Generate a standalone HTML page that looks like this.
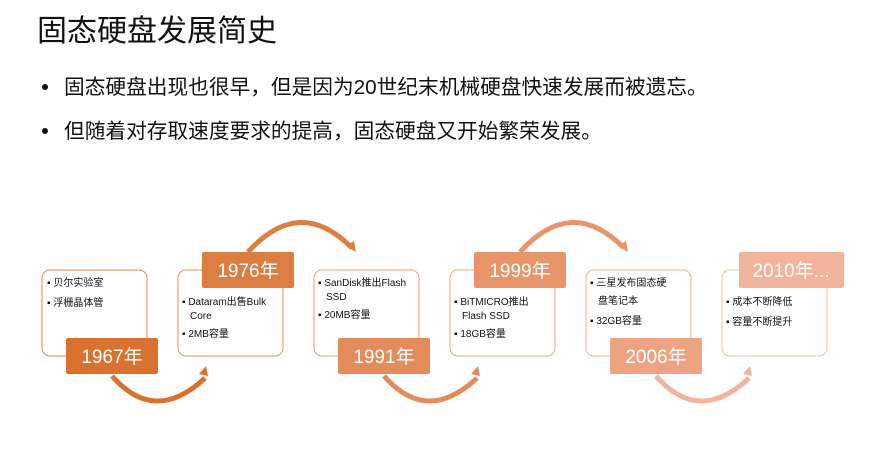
<!DOCTYPE html>
<html><head><meta charset="utf-8"><style>
body{margin:0;width:888px;height:444px;background:#fff;overflow:hidden;font-family:"Liberation Sans","Noto Sans CJK SC",sans-serif;}
</style></head><body>
<svg width="888" height="444" viewBox="0 0 888 444" xmlns="http://www.w3.org/2000/svg" font-family="Liberation Sans, Noto Sans CJK SC, sans-serif">
<text x="37" y="41" font-size="30" fill="#111">固态硬盘发展简史</text>
<circle cx="45" cy="87" r="3" fill="#111"/>
<text x="64" y="94" font-size="20.7" fill="#111">固态硬盘出现也很早，但是因为20世纪末机械硬盘快速发展而被遗忘。</text>
<circle cx="45" cy="131" r="3" fill="#111"/>
<text x="64" y="138" font-size="20.7" fill="#111">但随着对存取速度要求的提高，固态硬盘又开始繁荣发展。</text>

<defs>
<marker id="a1" markerWidth="4" markerHeight="4" refX="2" refY="2" orient="auto" markerUnits="strokeWidth"><path d="M0,0 L4,2 L0,4z" fill="context-stroke"/></marker>
</defs>
<g fill="none" stroke-width="5">
<path d="M112,376 Q155,425 205,378" stroke="#d9722f"/>
<path d="M199,374 L208,376 L206,366z" fill="#d9722f" stroke="none"/>
<path d="M248,252 Q300,195 352,248" stroke="#dc7d42"/>
<path d="M346,246 L356,252 L354,241z" fill="#dc7d42" stroke="none"/>
<path d="M384,376 Q427,425 477,378" stroke="#e38b5a"/>
<path d="M471,374 L480,376 L478,366z" fill="#e38b5a" stroke="none"/>
<path d="M520,252 Q572,195 624,248" stroke="#e8956b"/>
<path d="M618,246 L628,252 L626,241z" fill="#e8956b" stroke="none"/>
<path d="M656,376 Q699,425 749,378" stroke="#f2b49a"/>
<path d="M743,374 L752,376 L750,366z" fill="#f2b49a" stroke="none"/>
</g>

<g fill="#fff" stroke-width="1">
<rect x="42" y="270" width="105" height="86" rx="8" stroke="#e08a50"/>
<rect x="178" y="270" width="105" height="86" rx="8" stroke="#e39060"/>
<rect x="314" y="270" width="105" height="86" rx="8" stroke="#e9a07a"/>
<rect x="450" y="270" width="105" height="86" rx="8" stroke="#eca684"/>
<rect x="586" y="270" width="105" height="86" rx="8" stroke="#f0b094"/>
<rect x="722" y="270" width="105" height="86" rx="8" stroke="#f4bfa8"/>
</g>
<g>
<rect x="66" y="338" width="92" height="36" rx="2" fill="#d9722f"/>
<rect x="202" y="252" width="92" height="36" rx="2" fill="#dc7d42"/>
<rect x="338" y="338" width="92" height="36" rx="2" fill="#e38b5a"/>
<rect x="474" y="252" width="92" height="36" rx="2" fill="#e8956b"/>
<rect x="610" y="338" width="92" height="36" rx="2" fill="#eda381"/>
<rect x="739" y="252" width="105" height="36" rx="2" fill="#f2b49a"/>
</g>
<g font-size="19" fill="#fff" text-anchor="middle">
<text x="112" y="363">1967年</text>
<text x="248" y="277">1976年</text>
<text x="384" y="363">1991年</text>
<text x="520" y="277">1999年</text>
<text x="656" y="363">2006年</text>
<text x="791" y="277">2010年...</text>
</g>
<g font-size="10" fill="#111">
<text x="47" y="286">▪ 贝尔实验室</text>
<text x="47" y="306">▪ 浮栅晶体管</text>
<text x="182" y="305">▪ Dataram出售Bulk</text>
<text x="190" y="319">Core</text>
<text x="182" y="337">▪ 2MB容量</text>
<text x="318" y="286">▪ SanDisk推出Flash</text>
<text x="326" y="300">SSD</text>
<text x="318" y="318">▪ 20MB容量</text>
<text x="454" y="305">▪ BiTMICRO推出</text>
<text x="462" y="319">Flash SSD</text>
<text x="454" y="337">▪ 18GB容量</text>
<text x="590" y="286">▪ 三星发布固态硬</text>
<text x="598" y="304">盘笔记本</text>
<text x="590" y="324">▪ 32GB容量</text>
<text x="726" y="305">▪ 成本不断降低</text>
<text x="726" y="325">▪ 容量不断提升</text>
</g>
</svg>
</body></html>
